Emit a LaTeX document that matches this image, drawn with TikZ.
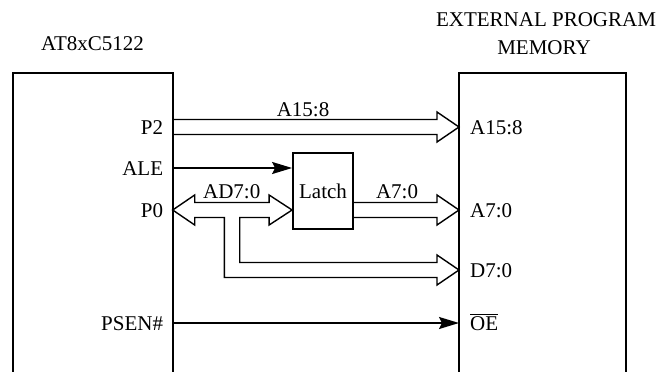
\documentclass[tikz,border=0pt]{standalone}
\usepackage{fontspec}
\setmainfont{Liberation Serif}
\usetikzlibrary{arrows.meta,calc}

\begin{document}
\begin{tikzpicture}[x=1pt,y=-1pt]

    % Styles for boxes, buses and signal lines
    \tikzset{
        chipbox/.style={line width=1.8pt},
        bus/.style={line width=1.4pt, line join=miter},
        signal/.style={line width=1.8pt, -{Stealth[length=20pt,width=12pt,inset=3pt]}},
        pinlabel/.style={font=\fontsize{21}{25}\selectfont, inner sep=0pt}
    }

    \useasboundingbox (0,0) rectangle (657,372);

    % --- BOXES ---
    % Microcontroller (open at the bottom)
    \draw[chipbox] (13,372) -- (13,73) -- (172.7,73) -- (172.7,372);
    % External program memory
    \draw[chipbox] (459,372) -- (459,73) -- (626,73) -- (626,372);
    % Latch
    \node[chipbox, draw, pinlabel, minimum width=60pt, minimum height=76pt] (latch) at (323,191) {Latch};

    % --- TITLES ---
    \node[pinlabel, anchor=base] (chip) at (92.5,50.5) {AT8xC5122};
    \node[pinlabel, anchor=base] (memtop) at (546,27) {EXTERNAL PROGRAM};
    \node[pinlabel, anchor=base] (membot) at (544,54) {MEMORY};

    % --- PINS ---
    \coordinate (p2) at (172.7,127);
    \coordinate (ale) at (172.7,168);
    \coordinate (p0) at (172.7,210);
    \coordinate (psen) at (172.7,323);
    \coordinate (mhi) at (459,127);
    \coordinate (mlo) at (459,210);
    \coordinate (mdat) at (459,270);
    \coordinate (moe) at (459,323);

    % Pin names inside the boxes
    \foreach \pin/\txt in {p2/P2, ale/ALE, p0/P0, psen/PSEN\#} {
        \node[pinlabel, anchor=base east] (l-\pin) at ($(\pin)+(-9.4,7)$) {\txt};
    }
    \foreach \pin/\txt in {mhi/A15:8, mlo/A7:0, mdat/D7:0, moe/{$\overline{\mbox{OE}}$}} {
        \node[pinlabel, anchor=base west] (l-\pin) at ($(\pin)+(11,7)$) {\txt};
    }

    % --- BUSES ---
    % High address byte straight to the memory
    \draw[bus] ($(p2)+(0,-7.5)$) -- ($(mhi)+(-22,-7.5)$) -- ++(0,-7.5) -- (mhi)
        -- ++(-22,15) -- ++(0,-7.5) -- ($(p2)+(0,7.5)$);
    \node[pinlabel, anchor=base] (bhi) at (303,116) {A15:8};

    % Latched low address byte
    \draw[bus] ($(latch.east |- mlo)+(0,-7.5)$) -- ($(mlo)+(-22,-7.5)$) -- ++(0,-7.5) -- (mlo)
        -- ++(-22,15) -- ++(0,-7.5) -- ($(latch.east |- mlo)+(0,7.5)$);
    \node[pinlabel, anchor=base] (blo) at (397,198) {A7:0};

    % Multiplexed address/data bus with branch to D7:0
    \coordinate (lw) at (latch.west |- p0);
    \draw[bus] (p0) -- ++(22,-15) -- ++(0,7.5) -- ($(lw)+(-23,-7.5)$) -- ++(0,-7.5) -- (lw)
        -- ++(-23,15) -- ++(0,-7.5) -- ($(p0)+(67,7.5)$) |- ($(mdat)+(-22,-7.5)$)
        -- ++(0,-7.5) -- (mdat) -- ++(-22,15) -- ++(0,-7.5) -| ($(p0)+(51.6,7.5)$)
        -- ($(p0)+(22,7.5)$) -- ++(0,7.5) -- cycle;
    \node[pinlabel, anchor=base] (bad) at (231.7,198) {AD7:0};

    % --- SIGNALS ---
    \draw[signal] (ale) -- (latch.west |- ale);
    \draw[signal] (psen) -- (moe);

\end{tikzpicture}
\end{document}
